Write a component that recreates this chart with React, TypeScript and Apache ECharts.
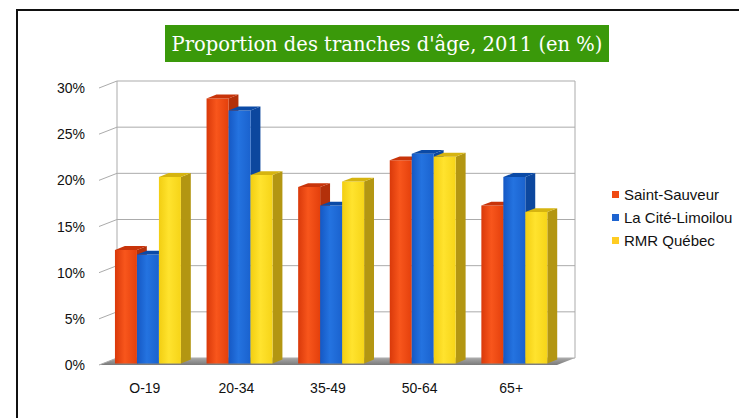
import React, { useEffect, useRef } from "react";
import * as echarts from "echarts";

const categories = ["O-19", "20-34", "35-49", "50-64", "65+"];
const seriesNames = ["Saint-Sauveur", "La Cité-Limoilou", "RMR Québec"];
const saintSauveur = [12.3, 28.7, 19.1, 22.0, 17.1];
const citeLimoilou = [11.8, 27.4, 17.1, 22.7, 20.2];
const rmrQuebec = [20.2, 20.4, 19.7, 22.4, 16.4];
const yTicks = [0, 5, 10, 15, 20, 25, 30];
const titleText = "Proportion des tranches d'âge, 2011 (en %)";

const DX = 18;
const DY = -7;

const palettes = [
  { legend: "#F04A12", front: ["#D9390A", "#F8561C", "#E4400C"], side: "#B3300A", top: "#C8340A" },
  { legend: "#1E64D0", front: ["#1558C4", "#2473E0", "#1A62CE"], side: "#0C479E", top: "#0B4AA6" },
  { legend: "#FFCC22", front: ["#F2CE12", "#FFE32E", "#F6D418"], side: "#B39612", top: "#D6B410" },
];

function makeBarRenderer(s: number) {
  const pal = palettes[s];
  return (params: any, api: any) => {
    const i = api.value(0);
    const v = api.value(1);
    const top = api.coord([i, v]);
    const base = api.coord([i, 0]);
    const band = api.size([1, 0])[0];
    const start = top[0] - band / 2;
    const w = band * 0.24;
    const ox = DX * 0.22;
    const oy = DY * 0.22;
    const sx = DX * 0.55;
    const sy = DY * 0.55;
    const x0 = start + band * 0.131 + s * w + ox;
    const x1 = x0 + w;
    const yt = top[1] + oy;
    const yb = base[1] + oy;
    return {
      type: "group",
      children: [
        {
          type: "polygon",
          shape: { points: [[x1, yt], [x1 + sx, yt + sy], [x1 + sx, yb + sy], [x1, yb]] },
          style: { fill: pal.side },
        },
        {
          type: "rect",
          shape: { x: x0, y: yt, width: w, height: yb - yt },
          style: {
            fill: new echarts.graphic.LinearGradient(0, 0, 1, 0, [
              { offset: 0, color: pal.front[0] },
              { offset: 0.45, color: pal.front[1] },
              { offset: 1, color: pal.front[2] },
            ]),
          },
        },
        {
          type: "polygon",
          shape: { points: [[x0, yt], [x1, yt], [x1 + sx, yt + sy], [x0 + sx, yt + sy]] },
          style: { fill: pal.top },
        },
      ],
    };
  };
}

function renderWalls(params: any, api: any) {
  const cs = params.coordSys;
  const xL = cs.x;
  const xR = cs.x + cs.width;
  const yAt = (t: number) => api.coord([0, t])[1];
  const y0 = yAt(yTicks[0]);
  const yMax = yAt(yTicks[yTicks.length - 1]);
  const stroke = { stroke: "#ababab", lineWidth: 1 };
  const children: any[] = [];
  children.push({
    type: "polygon",
    shape: { points: [[xL, y0], [xR, y0], [xR + DX, y0 + DY], [xL + DX, y0 + DY]] },
    style: {
      fill: new echarts.graphic.LinearGradient(0, 0, 0, 1, [
        { offset: 0, color: "#a8a8a8" },
        { offset: 1, color: "#7a7a7a" },
      ]),
    },
  });
  yTicks.forEach((t) => {
    const y = yAt(t);
    children.push({ type: "line", shape: { x1: xL + DX, y1: y + DY, x2: xR + DX, y2: y + DY }, style: stroke });
    children.push({ type: "line", shape: { x1: xL, y1: y, x2: xL + DX, y2: y + DY }, style: stroke });
  });
  children.push({ type: "line", shape: { x1: xL + DX, y1: yMax + DY, x2: xL + DX, y2: y0 + DY }, style: stroke });
  children.push({ type: "line", shape: { x1: xR + DX, y1: yMax + DY, x2: xR + DX, y2: y0 + DY }, style: stroke });
  return { type: "group", children };
}

export default function App() {
  const ref = useRef<HTMLDivElement>(null);
  useEffect(() => {
    if (!ref.current) return;
    const chart = echarts.init(ref.current, undefined, { renderer: "svg" });
    const values = [saintSauveur, citeLimoilou, rmrQuebec];
    const barSeries = seriesNames.map((name, s) => ({
      type: "custom",
      name,
      renderItem: makeBarRenderer(s),
      itemStyle: { color: palettes[s].legend },
      data: values[s].map((v, i) => [i, v]),
      encode: { x: 0, y: 1 },
      clip: false,
      z: 3 + s,
    }));
    chart.setOption({
      animation: false,
      backgroundColor: "#ffffff",
      grid: { left: 99, right: 182, top: 88, bottom: 53, containLabel: false },
      legend: {
        data: seriesNames,
        orient: "vertical",
        left: 612,
        top: 187,
        icon: "rect",
        itemWidth: 7,
        itemHeight: 7,
        itemGap: 8,
        itemTextGap: 5,
        padding: 0,
        selectedMode: false,
        textStyle: { fontSize: 15, fontFamily: "Liberation Sans", color: "#111", lineHeight: 15 },
      },
      xAxis: {
        type: "category",
        data: categories,
        axisLine: { show: false },
        axisTick: { show: false },
        axisLabel: { margin: 16, fontSize: 14, fontFamily: "Liberation Sans", color: "#111" },
        splitLine: { show: false },
      },
      yAxis: {
        type: "value",
        min: 0,
        max: 30,
        interval: 5,
        axisLine: { show: false },
        axisTick: { show: false },
        splitLine: { show: false },
        axisLabel: { formatter: "{value}%", margin: 14, fontSize: 14, fontFamily: "Liberation Sans", color: "#111" },
      },
      graphic: [
        {
          type: "rect",
          silent: true,
          shape: { x: 17, y: 10, width: 800, height: 500 },
          style: { fill: "none", stroke: "#111", lineWidth: 2 },
          z: 100,
        },
        {
          type: "rect",
          shape: { x: 165, y: 25, width: 444, height: 37 },
          style: { fill: "#3a990a" },
          z: 100,
        },
        {
          type: "text",
          x: 387,
          y: 44,
          style: {
            text: titleText,
            fill: "#ffffff",
            font: "19.5px 'DejaVu Serif'",
            align: "center",
            verticalAlign: "middle",
          },
          z: 101,
        },
      ],
      series: [
        {
          type: "custom",
          name: "walls",
          silent: true,
          renderItem: renderWalls,
          data: [[0, 0]],
          encode: { x: 0, y: 1 },
          clip: false,
          z: 1,
        },
        ...barSeries,
      ],
    });
    return () => chart.dispose();
  }, []);
  return <div ref={ref} style={{ position: "absolute", left: 0, top: 0, width: 739, height: 418 }} />;
}
